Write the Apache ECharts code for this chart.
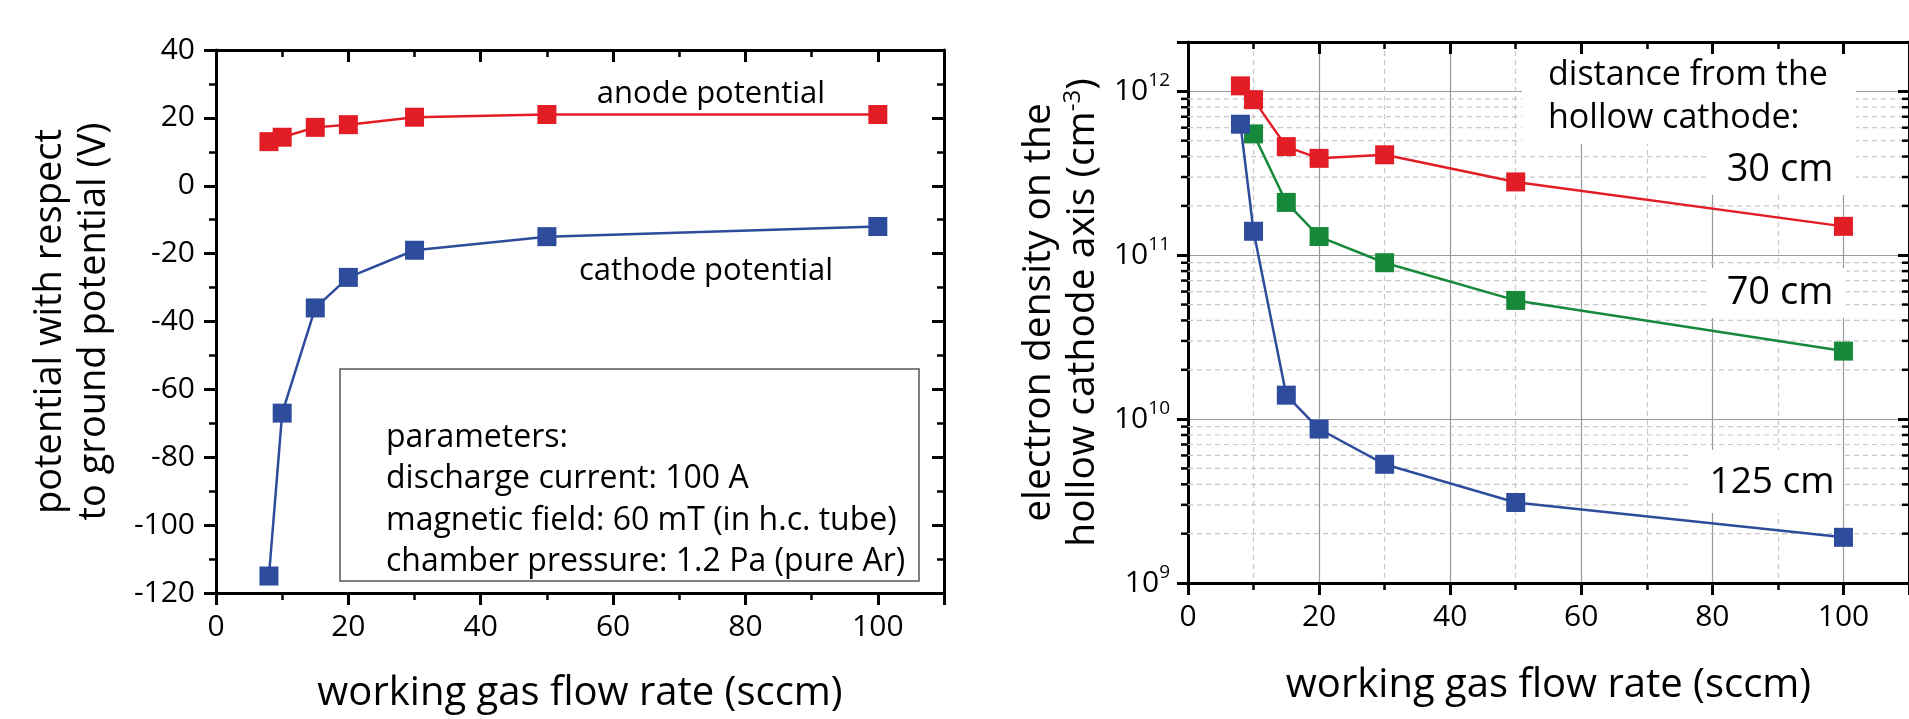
<!DOCTYPE html>
<html>
<head>
<meta charset="utf-8">
<script src="https://cdn.jsdelivr.net/npm/echarts@6/dist/echarts.min.js"></script>
<style>
  html, body { margin: 0; padding: 0; background: #fff; }
  #chart { width: 1909px; height: 719px; }
</style>
</head>
<body>
<div id="chart"></div>
<script>
// left panel: potentials vs flow
const flowLeft = [8, 10, 15, 20, 30, 50, 100];
const anodePotential = [13, 14.3, 17.2, 18, 20.2, 21, 21];
const cathodePotential = [-115, -67, -36, -27, -19, -15, -12];

// right panel: electron density vs flow (cm^-3)
const flowRight = [8, 10, 15, 20, 30, 50, 100];
const flowGreen = [10, 15, 20, 30, 50, 100];
const density30 = [1.08e12, 8.9e11, 4.6e11, 3.9e11, 4.1e11, 2.8e11, 1.5e11];
const density70 = [5.5e11, 2.1e11, 1.3e11, 9.0e10, 5.3e10, 2.6e10];
const density125 = [6.3e11, 1.4e11, 1.4e10, 8.7e9, 5.3e9, 3.1e9, 1.9e9];

// minor log positions (2..9 x 10^n)
const logMinor = [];
[1e9, 1e10, 1e11].forEach(d => { for (let k = 2; k <= 9; k++) logMinor.push(k * d) })

const paramLines = [
  'parameters:',
  'discharge current: 100 A',
  'magnetic field: 60 mT (in h.c. tube)',
  'chamber pressure: 1.2 Pa (pure Ar)'
];

const FONT = '"Open Sans", sans-serif';
const RED = '#e31d25';
const BLUE = '#2e4c9c';
const GREEN = '#17893a';

const zip = (xs, ys) => xs.map((x, i) => [x, ys[i]]);

function xAxisCfg(grid, top, extra) {
  return Object.assign({
    type: 'value', gridIndex: grid, position: top ? 'top' : 'bottom',
    min: 0, max: 110, interval: 20, z: top ? 3 : 0,
    axisLine: { onZero: false, lineStyle: { color: '#000', width: 3 } },
    axisTick: { inside: top, length: 12, lineStyle: { color: '#000', width: 3 } },
    minorTick: { show: true, splitNumber: 2, length: 7, lineStyle: { color: '#000', width: 2.5 } },
    axisLabel: top ? { show: false } : {
      fontSize: 30, fontFamily: FONT, color: '#000', margin: 19, showMaxLabel: false
    },
    splitLine: { show: false }
  }, extra || {});
}

const chart = echarts.init(document.getElementById('chart'));
const option = {
  animation: false,
  backgroundColor: '#fff',
  grid: [
    { left: 216, top: 50, width: 728, height: 543 },
    { left: 1188, top: 42, width: 726, height: 541 }
  ],
  xAxis: [
    xAxisCfg(0, false, {
      name: 'working gas flow rate (sccm)', nameLocation: 'middle', nameGap: 81,
      nameTextStyle: { fontSize: 40, fontFamily: FONT, color: '#000' }
    }),
    xAxisCfg(0, true),
    xAxisCfg(1, false, {
      name: 'working gas flow rate (sccm)', nameLocation: 'middle', nameGap: 83,
      nameTextStyle: { fontSize: 40, fontFamily: FONT, color: '#000' },
      splitLine: { show: true, lineStyle: { color: '#999', width: 1.2 } },
      minorSplitLine: { show: true, lineStyle: { color: '#c8c8c8', width: 1.2, type: [5, 4] } }
    }),
    xAxisCfg(1, true)
  ],
  yAxis: [
    {
      type: 'value', gridIndex: 0, min: -120, max: 40, interval: 20,
      axisLine: { onZero: false, lineStyle: { color: '#000', width: 3 } },
      axisTick: { length: 12, lineStyle: { color: '#000', width: 3 } },
      minorTick: { show: true, splitNumber: 2, length: 7, lineStyle: { color: '#000', width: 2.5 } },
      axisLabel: { fontSize: 30, fontFamily: FONT, color: '#000', margin: 21 },
      splitLine: { show: false },
      name: 'potential with respect\nto ground potential (V)',
      nameLocation: 'middle', nameGap: 100,
      nameTextStyle: { fontSize: 38, lineHeight: 44, fontFamily: FONT, color: '#000' }
    },
    {
      type: 'value', gridIndex: 0, position: 'right', min: -120, max: 40, interval: 20, z: 3,
      axisLine: { onZero: false, lineStyle: { color: '#000', width: 3 } },
      axisTick: { inside: true, length: 12, lineStyle: { color: '#000', width: 3 } },
      minorTick: { show: true, splitNumber: 2, length: 7, lineStyle: { color: '#000', width: 2.5 } },
      axisLabel: { show: false },
      splitLine: { show: false }
    },
    {
      type: 'log', logBase: 10, gridIndex: 1, min: 1e9, max: 2e12, splitNumber: 3,
      axisLine: { onZero: false, lineStyle: { color: '#000', width: 3 } },
      axisTick: { length: 11, lineStyle: { color: '#000', width: 3 } },
      axisLabel: {
        margin: 18,
        formatter: v => {
          const e = Math.log10(v), r = Math.round(e);
          return Math.abs(e - r) < 1e-6 ? '{b|10}{s|' + r + '}' : '';
        },
        rich: {
          b: { fontSize: 30, fontFamily: FONT, color: '#000', lineHeight: 40 },
          s: { fontSize: 19, fontFamily: FONT, color: '#000', lineHeight: 20, verticalAlign: 'top' }
        }
      },
      splitLine: { show: true, lineStyle: { color: '#999', width: 1.2 } },
      name: 'electron density on the\nhollow cathode axis (cm{s|-3})',
      nameLocation: 'middle', nameGap: 83,
      nameTextStyle: {
        fontSize: 39, lineHeight: 44, fontFamily: FONT, color: '#000',
        rich: { s: { fontSize: 24, fontFamily: FONT, color: '#000', lineHeight: 24, verticalAlign: 'top' } }
      }
    },
    {
      type: 'log', logBase: 10, gridIndex: 1, position: 'right', min: 1e9, max: 2e12, splitNumber: 3, z: 3,
      axisLine: { onZero: false, lineStyle: { color: '#000', width: 3 } },
      axisTick: { inside: true, length: 11, lineStyle: { color: '#000', width: 3 } },
      axisLabel: { show: false },
      splitLine: { show: false }
    }
  ],
  series: [
    {
      name: 'anode potential', type: 'line', xAxisIndex: 0, yAxisIndex: 0,
      data: zip(flowLeft, anodePotential), symbol: 'rect', symbolSize: 19,
      lineStyle: { color: RED, width: 2.5 }, itemStyle: { color: RED }
    },
    {
      name: 'cathode potential', type: 'line', xAxisIndex: 0, yAxisIndex: 0,
      data: zip(flowLeft, cathodePotential), symbol: 'rect', symbolSize: 19,
      lineStyle: { color: BLUE, width: 2.5 }, itemStyle: { color: BLUE }
    },
    {
      // minor log grid lines + minor ticks on both log axes
      type: 'custom', xAxisIndex: 2, yAxisIndex: 2, z: 1, silent: true,
      data: logMinor.map(v => [0, v]),
      renderItem: (params, api) => {
        const v = api.value(1);
        const a = api.coord([0, v]);
        const b = api.coord([110, v]);
        return {
          type: 'group', children: [
            { type: 'line', shape: { x1: a[0], y1: a[1], x2: b[0], y2: b[1] },
              style: { stroke: '#c8c8c8', lineWidth: 1.2, lineDash: [5, 4] } },
            { type: 'line', shape: { x1: a[0] - 7, y1: a[1], x2: a[0], y2: a[1] },
              style: { stroke: '#000', lineWidth: 2.5 } },
            { type: 'line', shape: { x1: b[0] - 7, y1: b[1], x2: b[0], y2: b[1] },
              style: { stroke: '#000', lineWidth: 2.5 } }
          ]
        };
      }
    },
    {
      name: '30 cm', type: 'line', xAxisIndex: 2, yAxisIndex: 2,
      data: zip(flowRight, density30), symbol: 'rect', symbolSize: 19,
      lineStyle: { color: RED, width: 2.5 }, itemStyle: { color: RED }
    },
    {
      name: '70 cm', type: 'line', xAxisIndex: 2, yAxisIndex: 2,
      data: zip(flowGreen, density70), symbol: 'rect', symbolSize: 19,
      lineStyle: { color: GREEN, width: 2.5 }, itemStyle: { color: GREEN }
    },
    {
      name: '125 cm', type: 'line', xAxisIndex: 2, yAxisIndex: 2,
      data: zip(flowRight, density125), symbol: 'rect', symbolSize: 19,
      lineStyle: { color: BLUE, width: 2.5 }, itemStyle: { color: BLUE }
    }
  ],
  graphic: [
    // left panel notes
    { type: 'text', z: 5, x: 711, y: 94,
      style: { text: 'anode potential', fontSize: 31, fontFamily: FONT, fill: '#000', align: 'center', verticalAlign: 'middle' } },
    { type: 'text', z: 5, x: 706, y: 271,
      style: { text: 'cathode potential', fontSize: 31, fontFamily: FONT, fill: '#000', align: 'center', verticalAlign: 'middle' } },
    { type: 'rect', z: 5, shape: { x: 340, y: 369, width: 579, height: 212 },
      style: { fill: '#fff', stroke: '#555', lineWidth: 1.5 } },
    { type: 'text', z: 6, x: 386, y: 417,
      style: { text: paramLines.join('\n'), fontSize: 32, lineHeight: 41.5, fontFamily: FONT, fill: '#000', align: 'left', verticalAlign: 'top' } },
    // right panel notes on white patches
    { type: 'rect', z: 1.5, shape: { x: 1522, y: 44, width: 334, height: 100 }, style: { fill: '#fff' } },
    { type: 'rect', z: 1.5, shape: { x: 1706, y: 144, width: 150, height: 51 }, style: { fill: '#fff' } },
    { type: 'rect', z: 1.5, shape: { x: 1706, y: 268, width: 140, height: 50 }, style: { fill: '#fff' } },
    { type: 'rect', z: 1.5, shape: { x: 1690, y: 450, width: 151, height: 63 }, style: { fill: '#fff' } },
    { type: 'text', z: 5, x: 1548, y: 53.5,
      style: { text: 'distance from the\nhollow cathode:', fontSize: 34, lineHeight: 43, fontFamily: FONT, fill: '#000', align: 'left', verticalAlign: 'top' } },
    { type: 'text', z: 5, x: 1780, y: 170,
      style: { text: '30 cm', fontSize: 38, fontFamily: FONT, fill: '#000', align: 'center', verticalAlign: 'middle' } },
    { type: 'text', z: 5, x: 1780, y: 293,
      style: { text: '70 cm', fontSize: 38, fontFamily: FONT, fill: '#000', align: 'center', verticalAlign: 'middle' } },
    { type: 'text', z: 5, x: 1772, y: 482,
      style: { text: '125 cm', fontSize: 37, fontFamily: FONT, fill: '#000', align: 'center', verticalAlign: 'middle' } }
  ]
};
chart.setOption(option);
</script>
</body>
</html>
